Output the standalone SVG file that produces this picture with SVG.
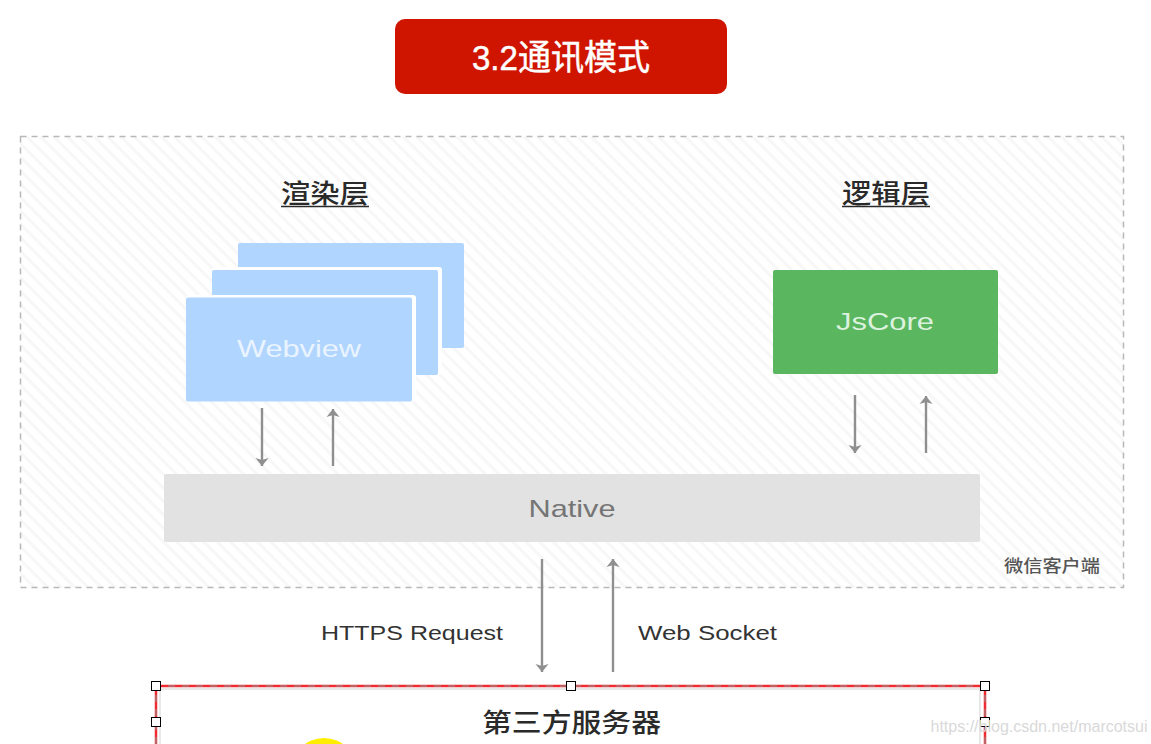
<svg xmlns="http://www.w3.org/2000/svg" width="1151" height="744" viewBox="0 0 1151 744">
<style>
.s{font-family:"Liberation Sans","Noto Sans CJK SC",sans-serif}
.c{font-family:"Noto Sans CJK SC","Liberation Sans",sans-serif}
.e{font-family:"Liberation Sans","Noto Sans",sans-serif}
.a{fill:none;stroke:#8f8f8f;stroke-width:2.400;marker-end:url(#h)}
.w{fill:#b0d5ff}
.b{fill:#fff}
.hd{fill:#fff;stroke:#000;stroke-width:1}
</style>
<defs>
<pattern id="hatch" width="9.500" height="9.500" patternUnits="userSpaceOnUse" patternTransform="rotate(45)">
<rect width="9.500" height="9.500" fill="#fff"/>
<rect y="0" width="9.500" height="3" fill="#f7f7f7"/>
</pattern>
<marker id="h" markerWidth="12" markerHeight="16" refX="9" refY="8" orient="auto" markerUnits="userSpaceOnUse">
<path d="M1 1.500 L9 8 L1 14.500 L3 8 Z" fill="#8f8f8f"/>
</marker>
</defs>
<rect width="1151" height="744" fill="#fff"/>
<g id="title">
<rect x="395" y="19" width="332" height="75" rx="10" fill="#cf1500"/>
<text x="561" y="70" text-anchor="middle" font-size="35" textLength="178" lengthAdjust="spacingAndGlyphs" fill="#fff" stroke="#fff" stroke-width="0.500" class="s">3.2通讯模式</text>
</g>
<g id="client">
<rect x="20.500" y="136.500" width="1103" height="451" fill="url(#hatch)" stroke="#b8b8b8" stroke-width="1.500" stroke-dasharray="6 5"/>
<text x="1052" y="572" text-anchor="middle" font-size="17" font-weight="500" textLength="96" lengthAdjust="spacingAndGlyphs" fill="#555" class="c">微信客户端</text>
</g>
<g id="render-title">
<text x="325" y="203" text-anchor="middle" font-size="26" font-weight="500" textLength="88" lengthAdjust="spacingAndGlyphs" fill="#2a2a2a" class="c">渲染层</text>
<line x1="281" y1="206.500" x2="369" y2="206.500" stroke="#2a2a2a" stroke-width="1.500"/>
</g>
<g id="logic-title">
<text x="886" y="203" text-anchor="middle" font-size="26" font-weight="500" textLength="88" lengthAdjust="spacingAndGlyphs" fill="#2a2a2a" class="c">逻辑层</text>
<line x1="842" y1="206.500" x2="930" y2="206.500" stroke="#2a2a2a" stroke-width="1.500"/>
</g>
<g id="webview3"><rect class="w" x="238" y="243" width="226" height="105" rx="2"/></g>
<g id="webview2"><rect class="b" x="212" y="267" width="230" height="108" rx="3"/><rect class="w" x="212" y="270" width="226" height="105" rx="2"/></g>
<g id="webview1"><rect class="b" x="186" y="295" width="230" height="106" rx="3"/><rect class="w" x="186" y="297.500" width="226" height="104" rx="2"/>
<text x="299" y="357" text-anchor="middle" font-size="24" textLength="124" lengthAdjust="spacingAndGlyphs" fill="#eaf4ff" class="e">Webview</text></g>
<g id="jscore"><rect x="773" y="270" width="225" height="104" rx="2" fill="#5ab65f"/>
<text x="885" y="330" text-anchor="middle" font-size="24" textLength="98" lengthAdjust="spacingAndGlyphs" fill="#dcf2df" class="e">JsCore</text></g>
<g id="native"><rect x="164" y="474" width="816" height="68" rx="2" fill="#e2e2e2"/>
<text x="572" y="517" text-anchor="middle" font-size="24" textLength="87" lengthAdjust="spacingAndGlyphs" fill="#757575" class="e">Native</text></g>
<g id="connectors">
<line class="a" x1="262" y1="408" x2="262" y2="466"/>
<line class="a" x1="333" y1="466" x2="333" y2="409"/>
<line class="a" x1="855" y1="395" x2="855" y2="453"/>
<line class="a" x1="926" y1="453" x2="926" y2="396"/>
<line class="a" x1="542" y1="559" x2="542" y2="672"/>
<line class="a" x1="613" y1="672" x2="613" y2="559"/>
</g>
<g id="labels">
<text x="412" y="640" text-anchor="middle" font-size="20" textLength="182" lengthAdjust="spacingAndGlyphs" fill="#333" class="e">HTTPS Request</text>
<text x="707.500" y="640" text-anchor="middle" font-size="20" textLength="139" lengthAdjust="spacingAndGlyphs" fill="#333" class="e">Web Socket</text>
</g>
<g id="server">
<rect x="161" y="690" width="816" height="60" fill="#fff"/>
<path d="M160 744V689H980V744" fill="none" stroke="#e8e8e8" stroke-width="2"/>
<path d="M156 744V686H985V744" fill="none" stroke="#f02c32" stroke-width="2.500"/>
<path d="M156 744V686H985V744" fill="none" stroke="#8a9a9a" stroke-width="1" stroke-dasharray="7 7"/>
<text x="571.500" y="732" text-anchor="middle" font-size="26" font-weight="500" textLength="179" lengthAdjust="spacingAndGlyphs" fill="#2a2a2a" class="c">第三方服务器</text>
<circle cx="324" cy="771" r="33" fill="#ffee00"/>
<rect class="hd" x="151.500" y="681.500" width="9" height="9"/>
<rect class="hd" x="566.500" y="681.500" width="9" height="9"/>
<rect class="hd" x="980.500" y="681.500" width="9" height="9"/>
<rect class="hd" x="151.500" y="717.500" width="9" height="9"/>
<rect class="hd" x="980.500" y="717.500" width="9" height="9"/>
</g>
<text x="1039" y="732" text-anchor="middle" font-size="16" fill="#d9d9d9" class="s">https://blog.csdn.net/marcotsui</text>
</svg>
